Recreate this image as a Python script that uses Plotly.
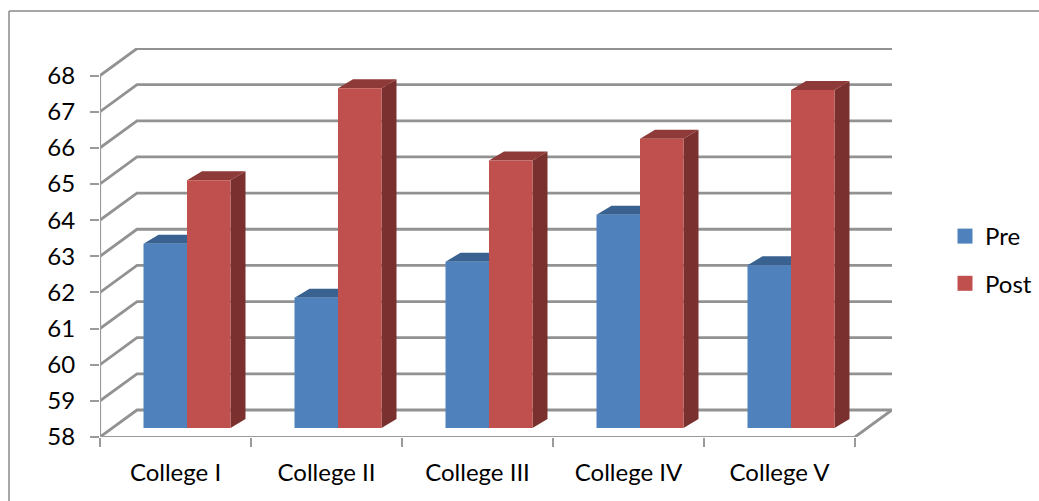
import plotly.graph_objects as go

# Survey scores by college
colleges = ["College I", "College II", "College III", "College IV", "College V"]
pre = [63.1, 61.6, 62.6, 63.9, 62.5]
post = [64.85, 67.4, 65.4, 66.0, 67.35]
y_ticks = list(range(58, 69))

W, H = 1039, 501
PLOT_L, PLOT_R, PLOT_T, PLOT_B = 100, 892, 48, 437
PX_PER_CAT = 151.0
PX_PER_UNIT = 36.15

BLUE, RED = "#4f81bd", "#c0504d"
BLUE_TOP, RED_TOP = "#3a6291", "#8e3a38"
BLUE_SIDE, RED_SIDE = "#385d8a", "#7a302e"
GRID = "#929292"
AXIS = "#9a9a9a"
FONT = "Lato, Carlito, sans-serif"

# 3D oblique projection, expressed in axis units
wall_dx = 37 / PX_PER_CAT
wall_dy = 27 / PX_PER_UNIT
bar_dx = 11.5 / PX_PER_CAT      # bars stand part-way into the floor
bar_dy = 9 / PX_PER_UNIT
depth_dx = 15 / PX_PER_CAT      # depth of each column
depth_dy = 9 / PX_PER_UNIT
bar_w = 43.5 / PX_PER_CAT
n = len(colleges)

x_range = [0, (PLOT_R - PLOT_L) / PX_PER_CAT]
y_range = [58, 58 + (PLOT_B - PLOT_T) / PX_PER_UNIT]
shift_x = [v - bar_dx for v in x_range]
shift_y = [v - bar_dy for v in y_range]
centers = [i + 0.5 for i in range(n)]
base = y_ticks[0]

fig = go.Figure()

# back wall gridlines with their diagonals on the side wall
wall_x, wall_y = [], []
for t in y_ticks:
    wall_x += [0, wall_dx, n + wall_dx, None]
    wall_y += [t, t + wall_dy, t + wall_dy, None]
wall_x += [n, n + wall_dx, None]
wall_y += [base, base + wall_dy, None]
fig.add_trace(go.Scatter(x=wall_x, y=wall_y, mode="lines", showlegend=False, hoverinfo="skip",
                         cliponaxis=False, line=dict(color=GRID, width=2.8)))

# front axis lines
fig.add_trace(go.Scatter(x=[0, 0, None, 0, n], y=[y_ticks[0], y_ticks[-1], None, base, base],
                         mode="lines", showlegend=False, hoverinfo="skip", cliponaxis=False,
                         line=dict(color=AXIS, width=2.2)))


def faces(values, offset):
    """Top and side polygons for one series of columns."""
    top_x, top_y, side_x, side_y = [], [], [], []
    for c, v in zip(centers, values):
        l = c + offset
        r = l + bar_w
        top_x += [l, l + depth_dx, r + depth_dx, r, l, None]
        top_y += [v, v + depth_dy, v + depth_dy, v, v, None]
        side_x += [r, r + depth_dx, r + depth_dx, r, r, None]
        side_y += [base, base + depth_dy, v + depth_dy, v, base, None]
    return top_x, top_y, side_x, side_y


# column depth faces sit below the front faces
for values, offset, top_c, side_c in ((pre, -bar_w, BLUE_TOP, BLUE_SIDE), (post, 0, RED_TOP, RED_SIDE)):
    tx, ty, sx, sy = faces(values, offset)
    for px, py, col in ((sx, sy, side_c), (tx, ty, top_c)):
        fig.add_trace(go.Scatter(x=px, y=py, mode="lines", fill="toself", fillcolor=col,
                                 line=dict(width=0, color=col), showlegend=False, hoverinfo="skip",
                                 cliponaxis=False, xaxis="x2", yaxis="y2"))

# front faces of the columns
for name, values, col in (("Pre", pre, BLUE), ("Post", post, RED)):
    fig.add_trace(go.Bar(x=centers, y=[v - base for v in values], base=base, name=name,
                         marker=dict(color=col, line=dict(width=0)), showlegend=False,
                         xaxis="x3", yaxis="y3", hovertext=values, hoverinfo="text"))

# legend entries
for name, col in (("Pre", BLUE), ("Post", RED)):
    fig.add_trace(go.Scatter(x=[None], y=[None], mode="markers", name=name, legendgroup=name,
                             marker=dict(symbol="square", size=15, color=col)))

dom_x = [PLOT_L / W, PLOT_R / W]
dom_y = [(H - PLOT_B) / H, (H - PLOT_T) / H]
hidden = dict(visible=False, fixedrange=True)

fig.update_layout(
    width=W, height=H, autosize=False,
    margin=dict(l=0, r=0, t=0, b=0),
    paper_bgcolor="white", plot_bgcolor="rgba(0,0,0,0)",
    font=dict(family=FONT, size=24, color="#000000"),
    barmode="group", bargap=1 - 2 * bar_w, bargroupgap=0,
    xaxis=dict(domain=dom_x, range=x_range, fixedrange=True, showgrid=False, zeroline=False,
               showline=False, automargin=False, tickmode="array", tickvals=centers, ticktext=colleges,
               ticks="", ticklabelstandoff=19,
               minor=dict(tickmode="array", tickvals=list(range(n + 1)), ticks="outside",
                          ticklen=9, tickwidth=2, tickcolor=AXIS, showgrid=False)),
    yaxis=dict(domain=dom_y, range=y_range, fixedrange=True, showgrid=False, zeroline=False,
               showline=False, automargin=False, tickmode="array", tickvals=y_ticks, ticks="outside",
               ticklen=9, tickwidth=2, tickcolor=AXIS, ticklabelstandoff=10),
    xaxis2=dict(domain=dom_x, range=shift_x, overlaying="x", anchor="y2", **hidden),
    yaxis2=dict(domain=dom_y, range=shift_y, overlaying="y", anchor="x2", **hidden),
    xaxis3=dict(domain=dom_x, range=shift_x, overlaying="x", anchor="y3", **hidden),
    yaxis3=dict(domain=dom_y, range=shift_y, overlaying="y", anchor="x3", **hidden),
    legend=dict(x=945 / W, y=(H - 214) / H, xanchor="left", yanchor="top",
                bgcolor="rgba(0,0,0,0)", traceorder="grouped", tracegroupgap=13,
                font=dict(family=FONT, size=24, color="#000000"), itemwidth=30),
    # chart frame: top and left edges
    shapes=[dict(type="line", xref="paper", yref="paper", x0=9 / W, x1=1, y0=(H - 11) / H, y1=(H - 11) / H,
                 line=dict(color="#8a8a8a", width=1.5)),
            dict(type="line", xref="paper", yref="paper", x0=9 / W, x1=9 / W, y0=0, y1=(H - 11) / H,
                 line=dict(color="#8a8a8a", width=1.5))],
)

fig.write_html("out.html")
